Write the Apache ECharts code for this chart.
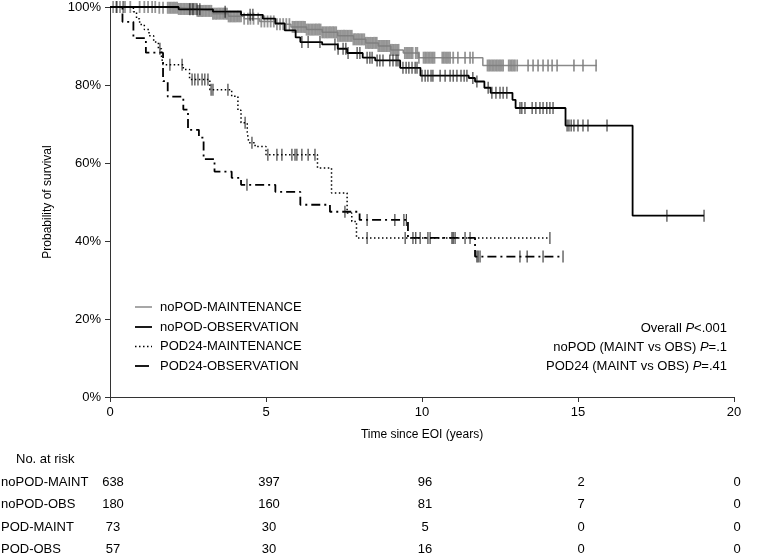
<!DOCTYPE html>
<html>
<head>
<meta charset="utf-8">
<script src="https://cdn.jsdelivr.net/npm/echarts@6/dist/echarts.min.js"></script>
<style>
html,body{margin:0;padding:0;background:#fff;}
#chart{width:760px;height:554px;}
</style>
</head>
<body>
<div id="chart"></div>
<script>
// ---------- data ----------
const seriesNames = ['noPOD-MAINTENANCE','noPOD-OBSERVATION','POD24-MAINTENANCE','POD24-OBSERVATION'];

// Kaplan-Meier steps: [time (years), survival %] (value after the drop at that time)
const noPodMaintCurve = [[0,100],[1.5,99.8],[2.2,99.5],[2.8,99.0],[3.3,98.3],[3.8,97.6],[4.3,97.0],[4.8,96.3],[5.3,95.6],[5.8,94.9],[6.3,94.2],[6.8,93.5],[7.3,92.6],[7.8,91.7],[8.2,90.8],[8.6,90.0],[9.0,89.0],[9.4,88.2],[9.9,87.0],[11.95,85.0],[15.6,85.0]];
const noPodObsCurve = [[0,100],[2.2,99.4],[3.3,98.8],[4.2,98.0],[4.9,97.0],[5.3,95.8],[5.6,94.0],[5.95,92.2],[6.1,91.0],[6.8,90.4],[7.3,89.3],[7.6,88.2],[8.1,87.0],[8.5,86.3],[9.3,84.4],[9.95,82.4],[11.5,81.8],[11.7,80.9],[12.0,79.3],[12.2,78.0],[12.9,76.2],[13.0,74.1],[14.6,69.6],[16.75,46.5],[19.04,46.5]];
const pod24MaintCurve = [[0,100],[0.75,98.8],[0.85,97.0],[0.95,95.5],[1.1,94.2],[1.25,92.6],[1.4,91.0],[1.55,89.3],[1.65,87.3],[1.7,85.2],[2.35,84.0],[2.55,81.4],[3.2,78.8],[3.9,77.1],[4.1,73.5],[4.2,70.3],[4.4,67.8],[4.45,65.2],[4.65,64.2],[5.0,62.1],[6.65,58.7],[7.1,52.3],[7.6,47.2],[7.75,45.0],[7.9,40.8],[14.1,40.8]];
const pod24ObsCurve = [[0,100],[0.4,96.2],[0.75,92.0],[1.15,88.3],[1.7,81.0],[1.85,77.0],[2.35,73.7],[2.5,68.5],[2.85,66.5],[3.0,61.0],[3.35,57.8],[3.9,56.2],[4.2,54.4],[5.3,52.6],[6.1,49.3],[7.05,47.5],[8.0,45.4],[9.55,40.8],[11.7,36.0],[14.5,36.0]];

// censoring times (years)
const noPodMaintCensor = [0.1,0.2,0.32,0.48,0.65,0.95,1.1,1.22,1.35,1.45,1.58,1.7,
1.85,1.9,1.95,2.0,2.05,2.1,2.15,2.2,2.25,2.3,2.35,2.4,2.45,2.5,2.55,2.6,2.65,2.7,2.75,2.8,2.85,2.9,2.95,3.0,3.05,3.1,3.15,3.2,3.25,3.3,3.35,3.4,3.45,3.5,3.55,3.6,3.65,3.7,3.75,3.8,3.85,3.9,3.95,4.0,4.05,4.1,4.15,4.2,
4.3,4.42,4.5,4.6,4.75,4.85,4.95,5.05,5.15,5.25,5.35,5.45,5.55,5.65,5.75,
5.85,5.9,5.95,6.0,6.05,6.1,6.15,6.2,6.25,6.3,6.35,6.4,6.45,6.5,6.55,6.6,6.65,6.7,6.75,6.8,6.85,6.9,6.95,7.0,7.05,7.1,7.15,7.2,7.25,7.3,7.35,7.4,7.45,7.5,7.55,7.6,7.65,7.7,7.75,7.8,7.85,7.9,7.95,8.0,8.05,8.1,8.15,8.2,8.25,8.3,8.35,8.4,8.45,8.5,8.55,8.6,8.65,8.7,8.75,8.8,8.85,8.9,8.95,9.0,9.05,9.1,9.15,9.2,9.25,
9.45,9.5,9.55,9.6,9.65,9.7,9.8,9.85,9.9,
10.05,10.1,10.15,10.2,10.25,10.3,10.35,10.4,
10.65,10.7,10.75,10.8,10.85,10.9,
11.0,11.15,11.38,11.54,11.63,
12.1,12.15,12.2,12.25,12.3,12.35,12.4,12.45,12.5,12.55,12.6,
12.78,12.83,12.88,12.93,12.98,13.05,
13.4,13.56,13.72,13.88,14.04,14.17,14.33,
14.87,15.16,15.58];
const noPodObsCensor = [0.22,0.42,2.56,2.66,2.79,2.88,3.69,4.49,4.58,6.15,6.35,6.73,7.21,7.31,7.47,7.56,7.63,7.92,8.01,8.24,8.33,8.40,8.56,8.65,8.75,8.97,9.07,9.17,9.23,9.39,9.49,9.58,9.68,9.78,9.84,10.0,10.1,10.19,10.29,10.35,10.58,10.74,10.9,11.0,11.12,11.25,11.35,11.44,11.63,11.76,12.12,12.24,12.37,12.5,12.6,12.72,13.14,13.2,13.3,13.53,13.65,13.78,13.88,14.0,14.1,14.2,14.65,14.71,14.78,14.87,15.0,15.16,15.32,15.93,17.85,19.04];
const pod24MaintCensor = [1.6,1.92,2.31,2.63,2.72,2.82,2.95,3.04,3.14,3.24,3.3,3.78,4.33,4.55,5.06,5.35,5.51,5.83,5.93,5.99,6.15,6.35,6.57,8.24,9.46,10.26,11.0,14.1];
const pod24ObsCensor = [4.39,7.53,8.24,9.13,9.42,9.5,9.71,9.8,9.94,10.19,10.96,11.06,11.38,11.54,11.76,11.8,11.86,13.14,13.37,13.88,14.52];

// numbers at risk
const riskTimes = [0,5,10,15,20];
const riskLabels = ['noPOD-MAINT','noPOD-OBS','POD-MAINT','POD-OBS'];
const riskNoPodMaint = [638,397,96,2,0];
const riskNoPodObs = [180,160,81,7,0];
const riskPodMaint = [73,30,5,0,0];
const riskPodObs = [57,30,16,0,0];

const pTexts = ['Overall {i|P}<.001','noPOD (MAINT vs OBS) {i|P}=.1','POD24 (MAINT vs OBS) {i|P}=.41'];

// ---------- chart ----------
const FONT = 'Liberation Sans, Arial, Helvetica, sans-serif';
const GREY = '#8a8a8a';
const BLACK = '#000';
const styles = [
  {color:GREY, width:1.5, type:'solid'},
  {color:BLACK, width:1.8, type:'solid'},
  {color:BLACK, width:1.5, type:[1.5,2.5]},
  {color:BLACK, width:1.8, type:[9,4,2,4]}
];

function survAt(curve, t){
  let s = curve[0][1];
  for (const p of curve){ if (p[0] <= t) s = p[1]; else break; }
  return s;
}
function censorData(curve, times){ return times.map(t => [t, survAt(curve, t)]); }

function lineSeries(name, curve, st, z){
  return {
    name, type:'line', data: curve, step:'end', showSymbol:false, symbol:'none',
    lineStyle:{color:st.color, width:st.width, type:st.type}, itemStyle:{color:st.color}, z, silent:true
  };
}
function tickSeries(name, curve, times, color, size, z){
  return {
    name, type:'scatter', data: censorData(curve, times), symbol:'rect',
    symbolSize:size, itemStyle:{color}, z, silent:true
  };
}

const chart = echarts.init(document.getElementById('chart'), null, {renderer:'canvas'});

const option = {
  animation:false,
  backgroundColor:'#fff',
  textStyle:{fontFamily:FONT},
  grid:{left:110, top:7, right:26, bottom:157},
  xAxis:{
    type:'value', min:0, max:20, interval:5,
    axisLine:{lineStyle:{color:'#333', width:1}},
    axisTick:{length:5, lineStyle:{color:'#333'}},
    splitLine:{show:false},
    axisLabel:{color:'#000', fontSize:13, margin:9, fontFamily:FONT},
    name:'Time since EOI (years)', nameLocation:'middle', nameGap:32,
    nameTextStyle:{color:'#000', fontSize:12, fontFamily:FONT}
  },
  yAxis:{
    type:'value', min:0, max:100, interval:20,
    axisLine:{show:true, lineStyle:{color:'#333', width:1}},
    axisTick:{show:true, length:5, lineStyle:{color:'#333'}},
    splitLine:{show:false},
    axisLabel:{color:'#000', fontSize:13, margin:9, formatter:'{value}%', fontFamily:FONT},
    name:'Probability of survival', nameLocation:'middle', nameGap:56,
    nameTextStyle:{color:'#000', fontSize:12, fontFamily:FONT}
  },
  series:[
    lineSeries(seriesNames[0], noPodMaintCurve, styles[0], 2),
    tickSeries('c0', noPodMaintCurve, noPodMaintCensor, '#7d7d7d', [1.8,12], 2),
    lineSeries(seriesNames[1], noPodObsCurve, styles[1], 3),
    tickSeries('c1', noPodObsCurve, noPodObsCensor, '#111', [1.2,12], 3),
    lineSeries(seriesNames[2], pod24MaintCurve, styles[2], 4),
    tickSeries('c2', pod24MaintCurve, pod24MaintCensor, '#111', [1.2,12], 4),
    lineSeries(seriesNames[3], pod24ObsCurve, styles[3], 5),
    tickSeries('c3', pod24ObsCurve, pod24ObsCensor, '#111', [1.2,12], 5)
  ]
};
chart.setOption(option);

// legend, annotations + risk table
const graphics = [];
const legY = [307, 327, 346.5, 366];
seriesNames.forEach((n, i) => {
  const st = styles[i];
  // the dash-dot key shows a single long dash in the reference
  const dashDot = Array.isArray(st.type) && st.type.length > 2;
  graphics.push({type:'line', silent:true,
    shape:{x1:135, y1:legY[i], x2: dashDot ? 149 : 152, y2:legY[i]},
    style:{stroke:st.color, lineWidth:st.width, lineDash: (st.type === 'solid' || dashDot) ? null : st.type}});
  graphics.push({type:'text', x:160, y:legY[i], silent:true,
    style:{text:n, textAlign:'left', textVerticalAlign:'middle', fontSize:13, fontFamily:FONT, fill:'#000'}});
});
const pY = [328, 347, 366];
pTexts.forEach((t, i) => {
  graphics.push({type:'text', x:727, y:pY[i], silent:true,
    style:{text:t, textAlign:'right', textVerticalAlign:'middle', fontSize:13, fontFamily:FONT, fill:'#000',
      rich:{i:{fontStyle:'italic', fontSize:13, fontFamily:FONT}}}});
});
graphics.push({type:'text', x:16, y:459, silent:true,
  style:{text:'No. at risk', textAlign:'left', textVerticalAlign:'middle', fontSize:13, fontFamily:FONT, fill:'#000'}});
const riskRows = [riskNoPodMaint, riskNoPodObs, riskPodMaint, riskPodObs];
const rowY = [482, 504.5, 527, 549];
riskRows.forEach((row, r) => {
  graphics.push({type:'text', x:1, y:rowY[r], silent:true,
    style:{text:riskLabels[r], textAlign:'left', textVerticalAlign:'middle', fontSize:13, fontFamily:FONT, fill:'#000'}});
  row.forEach((v, c) => {
    const px = chart.convertToPixel({xAxisIndex:0}, riskTimes[c]);
    graphics.push({type:'text', x:px + 3, y:rowY[r], silent:true,
      style:{text:String(v), textAlign:'center', textVerticalAlign:'middle', fontSize:13, fontFamily:FONT, fill:'#000'}});
  });
});
chart.setOption({graphic:graphics});
</script>
</body>
</html>
